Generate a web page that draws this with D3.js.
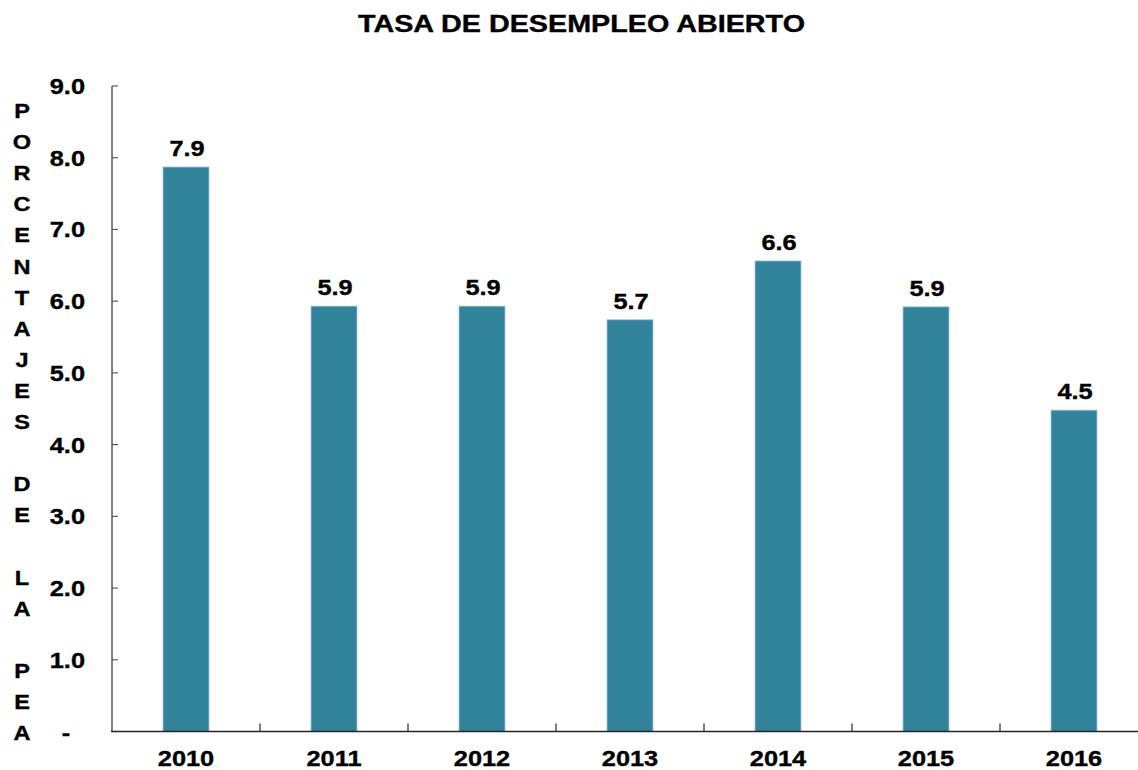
<!DOCTYPE html>
<html>
<head>
<meta charset="utf-8">
<script src="https://cdn.jsdelivr.net/npm/d3@7"></script>
<style>
  body { margin: 0; background: #fff; }
  text { font-family: "Liberation Sans", Arial, sans-serif; font-weight: bold; fill: #000; stroke: #000; stroke-width: 0.35px; }
</style>
</head>
<body>
<div id="chart"></div>
<script>
// data
const years = ['2010', '2011', '2012', '2013', '2014', '2015', '2016'];
const rates = [7.87, 5.93, 5.93, 5.74, 6.56, 5.92, 4.48];
const yTicks = [0, 1, 2, 3, 4, 5, 6, 7, 8, 9];
const title = 'TASA DE DESEMPLEO ABIERTO';
const yLabel = 'PORCENTAJES DE LA PEA';

const width = 1138;
const height = 770;
const stretch = 1.18; // text in the original is a bit wide

const svg = d3.select('#chart')
  .append('svg')
  .attr('width', width)
  .attr('height', height);

const x = d3.scaleBand()
  .domain(years)
  .range([112, 1148])
  .paddingInner(0.69)
  .paddingOuter(0.345);

const y = d3.scaleLinear().domain([0, 9]).range([731.5, 86]);

// stretched text helper
function label(g, tx, ty, str, size, anchor, sx) {
  return g.append('text')
    .attr('transform', `translate(${tx},${ty}) scale(${sx || stretch},1)`)
    .attr('text-anchor', anchor)
    .style('font-size', size + 'px')
    .text(str);
}

// title
svg.append('text')
  .attr('x', 358)
  .attr('y', 32)
  .attr('textLength', 447)
  .attr('lengthAdjust', 'spacingAndGlyphs')
  .style('font-size', '23px')
  .text(title);

// bars
svg.append('g')
  .selectAll('rect')
  .data(rates)
  .join('rect')
  .attr('x', (d, i) => x(years[i]))
  .attr('y', d => y(d))
  .attr('width', x.bandwidth())
  .attr('height', d => y(0) - y(d))
  .attr('fill', '#31849b')
  .attr('stroke', '#8dbccb')
  .attr('stroke-width', 0.8);

// value labels
const fmt = d3.format('.1f');
const vals = svg.append('g');
rates.forEach((d, i) => {
  label(vals, x(years[i]) + x.bandwidth() / 2 + 1, y(d) - 11, fmt(d), 21.5, 'middle');
});

// y axis
const yAxis = svg.append('g');
yAxis.append('line')
  .attr('x1', 112).attr('x2', 112)
  .attr('y1', y(9)).attr('y2', y(0))
  .attr('stroke', '#595959').attr('stroke-width', 1.5);
yAxis.selectAll('line.tick')
  .data(yTicks)
  .join('line')
  .attr('class', 'tick')
  .attr('x1', 112).attr('x2', 118)
  .attr('y1', d => y(d)).attr('y2', d => y(d))
  .attr('stroke', '#595959').attr('stroke-width', 1.2);
yTicks.forEach(t => {
  if (t === 0) {
    label(yAxis, 66, y(t) + 8, '-', 21.5, 'middle');
  } else {
    label(yAxis, 85, y(t) + 8, fmt(t), 21.5, 'end');
  }
});

// x axis
const xAxis = svg.append('g');
xAxis.append('line')
  .attr('x1', 111).attr('x2', width)
  .attr('y1', y(0)).attr('y2', y(0))
  .attr('stroke', '#262626').attr('stroke-width', 1.5);
xAxis.selectAll('line.tick')
  .data(years.slice(1))
  .join('line')
  .attr('class', 'tick')
  .attr('x1', d => x(d) - x.step() * x.paddingInner() / 2)
  .attr('x2', d => x(d) - x.step() * x.paddingInner() / 2)
  .attr('y1', y(0)).attr('y2', y(0) - 8)
  .attr('stroke', '#262626').attr('stroke-width', 1.2);
years.forEach(yr => {
  label(xAxis, x(yr) + x.bandwidth() / 2, 766, yr, 21.5, 'middle');
});

// vertical stacked y title
const letters = yLabel.split('');
const yt = svg.append('g');
letters.forEach((ch, i) => {
  if (ch === ' ') return;
  label(yt, 22, 118 + i * 31.1, ch, 20.5, 'middle', 1.15);
});
</script>
</body>
</html>
